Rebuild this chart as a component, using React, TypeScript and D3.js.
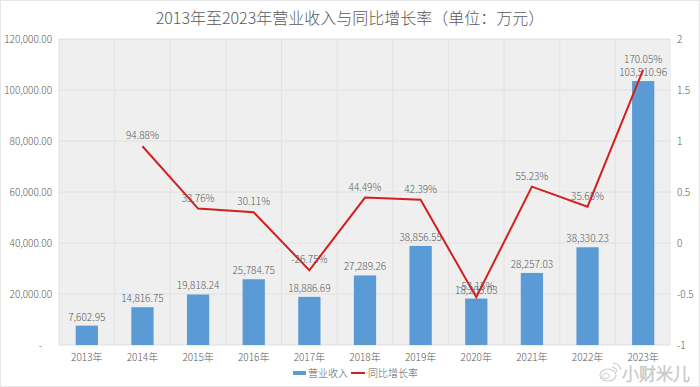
import React from "react";
import * as d3 from "d3";

const years = ["2013年", "2014年", "2015年", "2016年", "2017年", "2018年", "2019年", "2020年", "2021年", "2022年", "2023年"];
const revenue = [7602.95, 14816.75, 19818.24, 25784.75, 18886.69, 27289.26, 38856.55, 18203.03, 28257.03, 38330.23, 103510.96];
const growth: (number | null)[] = [null, 94.88, 33.76, 30.11, -26.75, 44.49, 42.39, -53.15, 55.23, 35.65, 170.05];
const leftTicks = [0, 20000, 40000, 60000, 80000, 100000, 120000];
const rightTicks = [-1, -0.5, 0, 0.5, 1, 1.5, 2];

const W = 700;
const H = 387;
const font = "'Noto Sans CJK SC', 'Liberation Sans', sans-serif";
const textColor = "#595959";

export default function App() {
  const margin = { top: 39, right: 29, bottom: 42, left: 59 };
  const x = d3.scaleBand<string>().domain(years).range([margin.left, W - margin.right]).paddingInner(0.6).paddingOuter(0.3);
  const xOuter = d3.scaleBand<string>().domain(years).range([margin.left, W - margin.right]);
  const y = d3.scaleLinear().domain([0, 120000]).range([H - margin.bottom, margin.top]);
  const y2 = d3.scaleLinear().domain([-1, 2]).range([H - margin.bottom, margin.top]);
  const fmt = d3.format(",.2f");

  const pts = years
    .map((yr, i) => ({ yr, g: growth[i] }))
    .filter((d) => d.g !== null) as { yr: string; g: number }[];
  const line = d3
    .line<{ yr: string; g: number }>()
    .x((d) => (xOuter(d.yr) as number) + xOuter.bandwidth() / 2)
    .y((d) => y2(d.g / 100));

  const plotL = margin.left;
  const plotR = W - margin.right;
  const plotT = margin.top;
  const plotB = H - margin.bottom;

  return (
    <svg width={W} height={H} style={{ position: "absolute", left: 0, top: 0 }} fontFamily={font} fontWeight={300}>
      <rect x={0.5} y={0.5} width={W - 1} height={H - 1} fill="#fff" stroke="#e6e6e6" />
      <text x={W / 2} y={24} textAnchor="middle" fontSize={16} fill={textColor}>
        2013年至2023年营业收入与同比增长率（单位：万元）
      </text>

      {/* plot background and grid */}
      <rect x={plotL} y={plotT} width={plotR - plotL} height={plotB - plotT} fill="#efefef" />
      {years.map((yr) => (
        <line key={"v" + yr} x1={xOuter(yr)} x2={xOuter(yr)} y1={plotT} y2={plotB} stroke="#e3e3e3" />
      ))}
      {leftTicks.map((t) => (
        <line key={"h" + t} x1={plotL} x2={plotR} y1={y(t)} y2={y(t)} stroke="#e0e0e0" />
      ))}

      {/* left axis */}
      {leftTicks.map((t) => (
        <text key={"l" + t} x={t === 0 ? 42 : 52} y={y(t)} dy="0.35em" textAnchor="end" fontSize={10} fill={textColor}>
          {t === 0 ? "-" : fmt(t)}
        </text>
      ))}
      {/* right axis */}
      {rightTicks.map((t) => (
        <text key={"r" + t} x={677} y={y2(t)} dy="0.35em" textAnchor="start" fontSize={10} fill={textColor}>
          {String(t)}
        </text>
      ))}

      {/* bars */}
      {years.map((yr, i) => (
        <rect key={"b" + yr} x={x(yr)} y={y(revenue[i])} width={x.bandwidth()} height={y(0) - y(revenue[i])} fill="#5b9bd5" />
      ))}

      {/* bar labels */}
      {years.map((yr, i) => (
        <text
          key={"bl" + yr}
          x={(xOuter(yr) as number) + xOuter.bandwidth() / 2}
          y={y(revenue[i]) - 5}
          textAnchor="middle"
          fontSize={10}
          fill={textColor}
        >
          {fmt(revenue[i])}
        </text>
      ))}

      {/* growth line */}
      <path d={line(pts) as string} fill="none" stroke="#d21f1f" strokeWidth={2} />
      {pts.map((d) => (
        <text
          key={"pl" + d.yr}
          x={(xOuter(d.yr) as number) + xOuter.bandwidth() / 2}
          y={y2(d.g / 100) - 7}
          textAnchor="middle"
          fontSize={10}
          fill={textColor}
        >
          {d.g.toFixed(2) + "%"}
        </text>
      ))}

      {/* x labels */}
      {years.map((yr) => (
        <text key={"x" + yr} x={(xOuter(yr) as number) + xOuter.bandwidth() / 2} y={plotB + 16} textAnchor="middle" fontSize={10} fill={textColor}>
          {yr}
        </text>
      ))}

      {/* legend */}
      <rect x={293} y={371} width={13} height={4} fill="#5b9bd5" />
      <text x={308} y={373} dy="0.35em" fontSize={10} fill={textColor}>营业收入</text>
      <line x1={351} x2={365} y1={373} y2={373} stroke="#d21f1f" strokeWidth={2} />
      <text x={368} y={373} dy="0.35em" fontSize={10} fill={textColor}>同比增长率</text>

      {/* watermark */}
      <g opacity={0.9}>
        <ellipse cx={608} cy={375} rx={8} ry={6} fill="#fff" stroke="#c8c8c8" strokeWidth={1.2} />
        <ellipse cx={606} cy={376} rx={3.5} ry={2.6} fill="none" stroke="#c8c8c8" strokeWidth={1} />
        <path d="M612,367 a6,6 0 0 1 5,5 M613,363 a9,9 0 0 1 8,7" fill="none" stroke="#c8c8c8" strokeWidth={1.2} />
        <text x={622} y={374} dy="0.35em" fontSize={17} fill="#fff" stroke="#c4c4c4" strokeWidth={0.8}>小财米儿</text>
      </g>
    </svg>
  );
}
